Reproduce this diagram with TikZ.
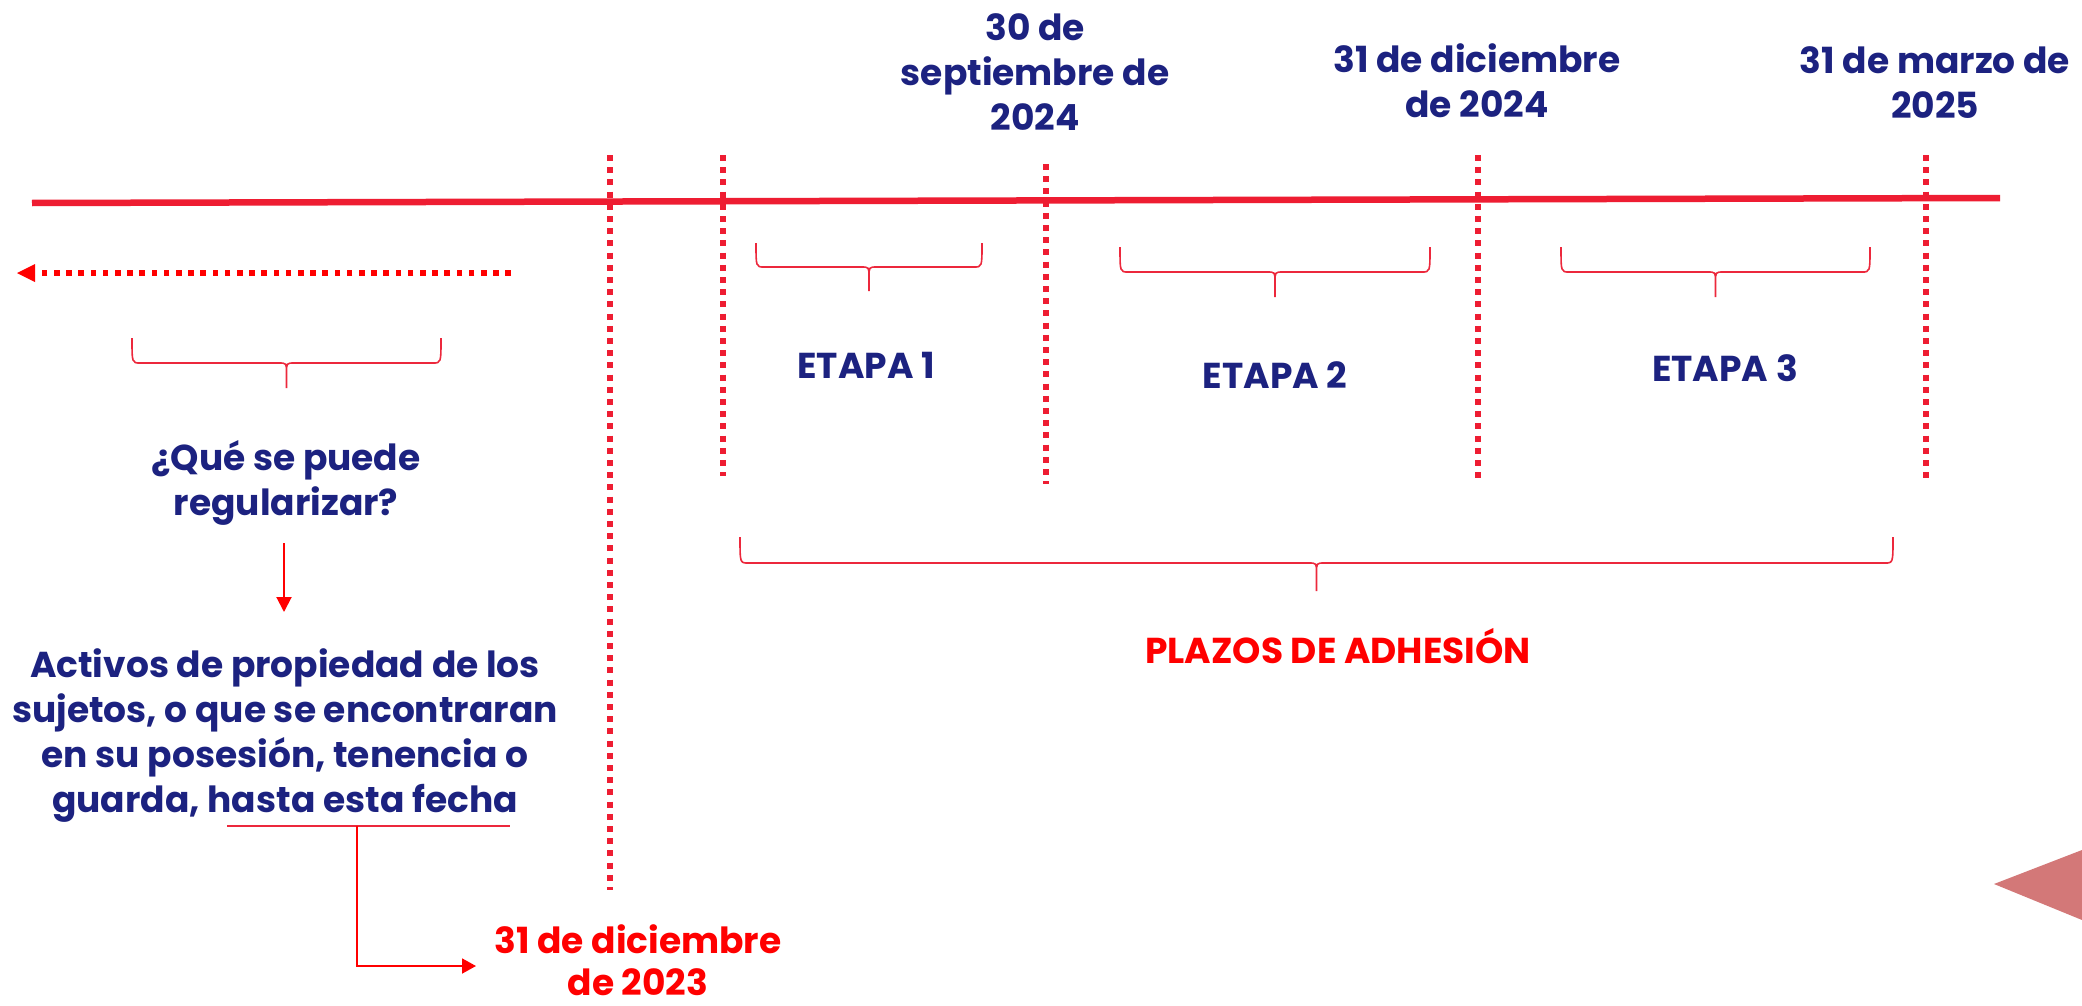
\documentclass[tikz,border=0pt]{standalone}
\usepackage{fontspec}
\setmainfont{Poppins}
\usetikzlibrary{arrows.meta}
\definecolor{navy}{RGB}{28,34,128}
\definecolor{linered}{RGB}{238,29,50}
\definecolor{purered}{RGB}{255,0,0}
\definecolor{bracered}{RGB}{236,40,60}
\definecolor{trired}{RGB}{211,120,120}
\newcommand\bracedown[5]{%
  \draw[bracestyle] (#1,#3) .. controls (#1,#4) .. ({#1+8},#4)
    -- ({(#1+#2)/2-8},#4) .. controls ({(#1+#2)/2},#4) .. ({(#1+#2)/2},{#4+10})
    -- ({(#1+#2)/2},#5)
    ({(#1+#2)/2},{#4+10}) .. controls ({(#1+#2)/2},#4) .. ({(#1+#2)/2+8},#4)
    -- ({#2-8},#4) .. controls (#2,#4) .. (#2,#3);}
\begin{document}
\begin{tikzpicture}[x=1pt,y=-1pt,
  txt/.style={font=\fontsize{36}{45}\selectfont\bfseries, align=center, inner sep=0pt, anchor=base},
  bluetxt/.style={txt, text=navy},
  redtxt/.style={txt, text=purered},
  mainline/.style={draw=linered, line width=6.5pt},
  vdots/.style={draw=linered, line width=6pt, dash pattern=on 6pt off 6.2pt},
  hdots/.style={draw=purered, line width=5.5pt, dash pattern=on 5.7pt off 6.5pt},
  bracestyle/.style={draw=bracered, line width=1.6pt},
  arrowline/.style={draw=purered, line width=2pt, -{Triangle[length=15pt,width=15pt]}},
  thinline/.style={draw=bracered, line width=1.6pt}]
\useasboundingbox (0,0) rectangle (2082,1006);
\fill[white] (0,0) rectangle (2082,1006);

% main time line
\coordinate (mlA) at (32,203);
\coordinate (mlB) at (2000,198);
\draw[mainline] (mlA) -- (mlB);

% vertical dotted markers
\coordinate (v0a) at (610,155); \coordinate (v0b) at (610,890);
\coordinate (v1a) at (723,155); \coordinate (v1b) at (723,476);
\coordinate (v2a) at (1046,164); \coordinate (v2b) at (1046,484);
\coordinate (v3a) at (1478,155); \coordinate (v3b) at (1478,478);
\coordinate (v4a) at (1926,155); \coordinate (v4b) at (1926,478);
\draw[vdots] (v0a) -- (v0b);
\draw[vdots] (v1a) -- (v1b);
\draw[vdots] (v2a) -- (v2b);
\draw[vdots] (v3a) -- (v3b);
\draw[vdots] (v4a) -- (v4b);

% dotted arrow to the left
\coordinate (haS) at (511,273);
\coordinate (haE) at (34,273);
\coordinate (haT) at (17,273);
\draw[hdots] (haS) -- (haE);
\fill[purered] (haT) -- (35,264) -- (35,282) -- cycle;

% braces
\bracedown{132}{441}{338}{363}{388}
\bracedown{756}{982}{243}{267}{291}
\bracedown{1120}{1430}{247}{272}{297}
\bracedown{1561}{1870}{247}{272}{297}
\bracedown{740}{1893}{537}{563}{591}

% top date labels (anchor = baseline of last line)
\node[bluetxt] (d30) at (1035,131) {30 de\\septiembre de\\2024};
\node[bluetxt] (d31a) at (1477,118) {31 de diciembre\\de 2024};
\node[bluetxt] (d31m) at (1935,119) {31 de marzo de\\2025};

% stages
\node[bluetxt] (e1) at (866,378) {ETAPA 1};
\node[bluetxt] (e2) at (1275,388) {ETAPA 2};
\node[bluetxt] (e3) at (1725,381) {ETAPA 3};

% plazos
\node[redtxt] (plz) at (1338,663) {PLAZOS DE ADHESIÓN};

% left column
\node[bluetxt] (q) at (286,515) {¿Qué se puede\\regularizar?};
\node[bluetxt] (act) at (285,812) {Activos de propiedad de los\\sujetos, o que se encontraran\\en su posesión, tenencia o\\guarda, hasta esta fecha};
\coordinate (arA) at (284,543);
\coordinate (arB) at (284,612);
\draw[arrowline] (arA) -- (arB);

% underline and connector to date
\coordinate (ulA) at (227,826);
\coordinate (ulB) at (510,826);
\coordinate (ulM) at (357,826);
\coordinate (ulE) at (476,966);
\draw[thinline] (ulA) -- (ulB);
\node[redtxt, font=\fontsize{36}{42}\selectfont\bfseries] (d23) at (638,995) {31 de diciembre\\de 2023};
\draw[draw=purered, line width=1.8pt, -{Triangle[length=14pt,width=15pt]}] (ulM) |- (ulE);

% decorative triangle
\fill[trired] (1994,884) -- (2082,850) -- (2082,920) -- cycle;
\end{tikzpicture}
\end{document}
